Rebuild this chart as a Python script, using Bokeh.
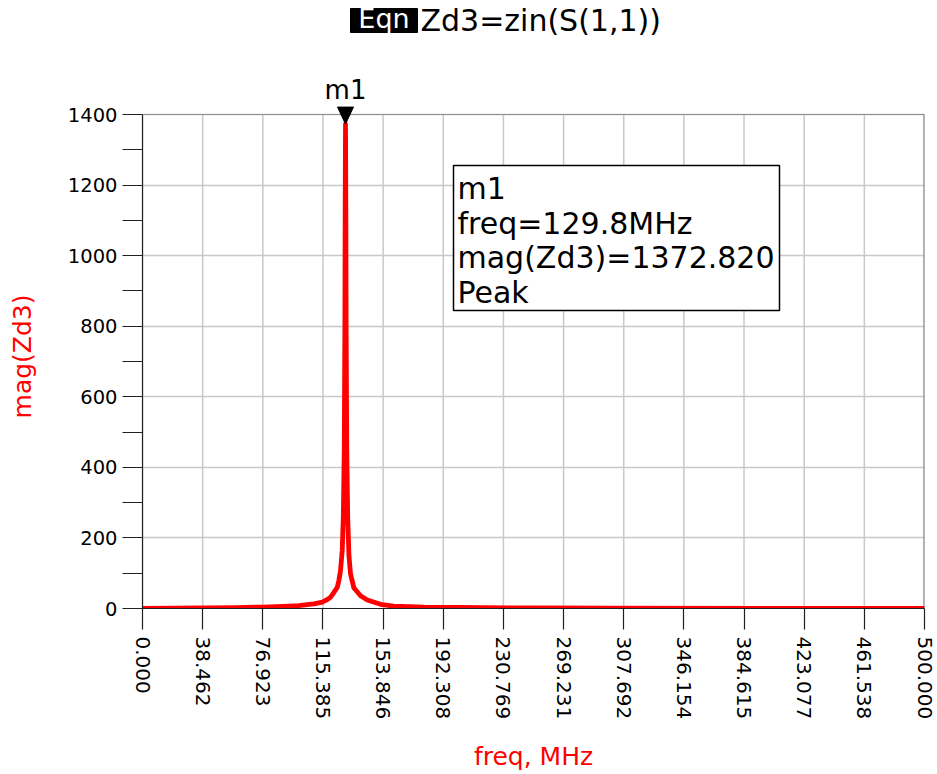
import math
from bokeh.plotting import figure
from bokeh.layouts import column
from bokeh.models import (Range1d, FixedTicker, Label, BoxAnnotation,
                          PolyAnnotation, Span)
from bokeh.embed import file_html
from bokeh.resources import INLINE

# Sweep of |Zd3| = |zin(S(1,1))| versus frequency (MHz)
freq_mhz = [0.0, 20.0, 40.0, 60.0, 76.9, 90.0, 100.0, 109.5, 115.0, 118.0,
            120.0, 122.3, 124.5, 125.5, 126.6, 127.7, 128.4, 129.0, 129.4,
            129.6, 129.8, 130.0, 130.2, 130.6, 131.2, 132.0, 133.0, 135.1,
            139.4, 143.7, 152.2, 160.5, 180.0, 201.0, 250.0, 300.0, 400.0,
            500.0]
mag_zd3 = [0.5, 1.0, 1.5, 2.5, 4.0, 6.0, 8.0, 13.0, 18.0, 25.0,
           31.0, 45.0, 60.0, 78.0, 107.0, 164.0, 260.0, 450.0, 800.0,
           1150.0, 1372.82, 1150.0, 800.0, 450.0, 260.0, 150.0, 98.0, 59.0,
           36.0, 24.0, 12.0, 7.0, 4.0, 3.0, 1.5, 1.0, 0.6,
           0.5]

# Marker m1 (peak search)
m1_freq = 129.8
m1_mag = 1372.820

x_tick_labels = ["0.000", "38.462", "76.923", "115.385", "153.846",
                 "192.308", "230.769", "269.231", "307.692", "346.154",
                 "384.615", "423.077", "461.538", "500.000"]
y_ticks = [0, 200, 400, 600, 800, 1000, 1200, 1400]
y_minor_ticks = [100, 300, 500, 700, 900, 1100, 1300]

X0, X1 = 0.0, 500.0
Y0, Y1 = 0.0, 1400.0

# page geometry (pixels): plot box spans x 142..924, y 114..608
FL, FW = 142, 782
BOX_TOP, BOX_BOT = 114, 608
W, H = 937, 774
SPLIT = 104          # the heading strip occupies rows 0..SPLIT
PX_PER_Y = (BOX_BOT - BOX_TOP) / (Y1 - Y0)
PX_PER_X = FW / (X1 - X0)
BASELINE_SHIFT = 9   # labels render slightly below their anchor


def px_x(px):
    return X0 + (px - FL) / PX_PER_X


def px_y(py):
    return Y0 + (BOX_BOT - py) / PX_PER_Y


def text_y(baseline_px):
    return px_y(baseline_px - BASELINE_SHIFT)


FONT = "DejaVu Sans"
x_range = Range1d(X0, X1)

# ---------------------------------------------------------------- main plot
p = figure(frame_width=FW, frame_height=BOX_BOT - SPLIT,
           min_border_left=FL, min_border_right=W - FL - FW,
           min_border_top=0, min_border_bottom=H - BOX_BOT,
           x_range=x_range, y_range=Range1d(Y0, px_y(SPLIT)),
           output_backend="svg", toolbar_location=None,
           background_fill_color="white", border_fill_color="white")
p.outline_line_color = None

x_ticks = [float(s) for s in x_tick_labels]
p.xaxis.ticker = FixedTicker(ticks=x_ticks)
p.xaxis.major_label_overrides = {t: s for t, s in zip(x_ticks, x_tick_labels)}
p.yaxis.ticker = FixedTicker(ticks=y_ticks, minor_ticks=y_minor_ticks)
p.yaxis.bounds = (Y0, Y1)

GRID = "#c8c8c8"
p.xgrid.visible = False
p.ygrid.ticker = FixedTicker(ticks=y_ticks)
p.ygrid.grid_line_color = GRID
p.ygrid.grid_line_width = 1.5
# vertical grid lines stop at the top of the plot box
p.segment(x0=x_ticks, y0=[Y0] * len(x_ticks), x1=x_ticks,
          y1=[Y1] * len(x_ticks), line_color=GRID, line_width=1.5)

# plot box: top and right edges
p.add_layout(Span(location=Y1, dimension="width", line_color="#909090",
                  line_width=1.2))
p.segment(x0=[X1], y0=[Y0], x1=[X1], y1=[Y1], line_color="#909090",
          line_width=2.4)

for ax in (p.xaxis, p.yaxis):
    ax.axis_line_color = "#202020"
    ax.axis_line_width = 1.2
    ax.major_tick_line_color = "#202020"
    ax.minor_tick_line_color = "#202020"
    ax.major_tick_line_width = 1.2
    ax.minor_tick_line_width = 1.2
    ax.major_tick_in = 0
    ax.minor_tick_in = 0
    ax.major_label_text_font = FONT
    ax.major_label_text_color = "black"
    ax.axis_label_text_font = FONT
    ax.axis_label_text_font_style = "normal"
    ax.axis_label_text_color = "#ff0000"
    ax.axis_label_text_font_size = "25px"

p.xaxis.major_tick_out = 21
p.xaxis.minor_tick_out = 0
p.xaxis.major_label_standoff = 7
p.xaxis.major_label_orientation = -math.pi / 2
p.xaxis.major_label_text_font_size = "20px"
p.xaxis.axis_label = "freq, MHz"
p.xaxis.axis_label_standoff = 20

p.yaxis.major_tick_out = 20
p.yaxis.minor_tick_out = 20
p.yaxis.major_label_standoff = 5
p.yaxis.major_label_text_font_size = "19.5px"
p.yaxis.axis_label = "mag(Zd3)"
p.yaxis.axis_label_standoff = 28

# trace
p.line(freq_mhz, mag_zd3, line_color="#ff0000", line_width=4.8,
       line_join="round")

# marker triangle with its tip on the peak
tri_w = 8 / PX_PER_X
tri_h = 17 / PX_PER_Y
tri_xs = [m1_freq - tri_w, m1_freq + tri_w, m1_freq]
tri_ys = [m1_mag + tri_h, m1_mag + tri_h, m1_mag]
p.add_layout(PolyAnnotation(xs=tri_xs, ys=tri_ys, fill_color="black",
                            fill_alpha=1.0, line_color="black",
                            line_alpha=1.0, line_width=1))

# marker readout box
p.add_layout(BoxAnnotation(left=px_x(453), right=px_x(779),
                           top=px_y(165), bottom=px_y(310),
                           fill_color="white", fill_alpha=1.0,
                           line_color="black", line_alpha=1.0,
                           line_width=1.5))
readout = ["m1", "freq=%.1fMHz" % m1_freq, "mag(Zd3)=%.3f" % m1_mag, "Peak"]
for i, line in enumerate(readout):
    p.add_layout(Label(x=px_x(457), y=text_y(197 + 34.7 * i), text=line,
                       text_font=FONT, text_font_size="30px",
                       text_align="left", text_baseline="alphabetic",
                       text_color="black"))

# ------------------------------------------------------------ heading strip
top = figure(frame_width=FW, frame_height=SPLIT,
             min_border_left=FL, min_border_right=W - FL - FW,
             min_border_top=0, min_border_bottom=0,
             x_range=x_range, y_range=Range1d(px_y(SPLIT), px_y(0)),
             x_axis_location=None, y_axis_location=None,
             output_backend="svg", toolbar_location=None,
             background_fill_color="white", border_fill_color="white")
top.outline_line_color = None
top.xgrid.visible = False
top.ygrid.visible = False

top.add_layout(PolyAnnotation(xs=tri_xs, ys=tri_ys, fill_color="black",
                              fill_alpha=1.0, line_color="black",
                              line_alpha=1.0, line_width=1))
top.add_layout(Label(x=m1_freq, y=text_y(98), text="m1",
                     text_font=FONT, text_font_size="26px",
                     text_align="center", text_baseline="alphabetic",
                     text_color="black"))

# equation heading: black tag followed by the expression
top.add_layout(BoxAnnotation(left=px_x(350), right=px_x(417),
                             top=px_y(8), bottom=px_y(32),
                             fill_color="black", fill_alpha=1.0,
                             line_color="black", line_alpha=1.0))
top.add_layout(Label(x=px_x(383.5), y=text_y(27), text="Eqn",
                     text_font=FONT, text_font_size="27px",
                     text_align="center", text_baseline="alphabetic",
                     text_color="white"))
top.add_layout(Label(x=px_x(420), y=text_y(28.5), text="Zd3=zin(S(1,1))",
                     text_font=FONT, text_font_size="30px",
                     text_align="left", text_baseline="alphabetic",
                     text_color="black"))

layout = column(top, p, spacing=0)
open("out.html", "w").write(file_html(layout, INLINE))
